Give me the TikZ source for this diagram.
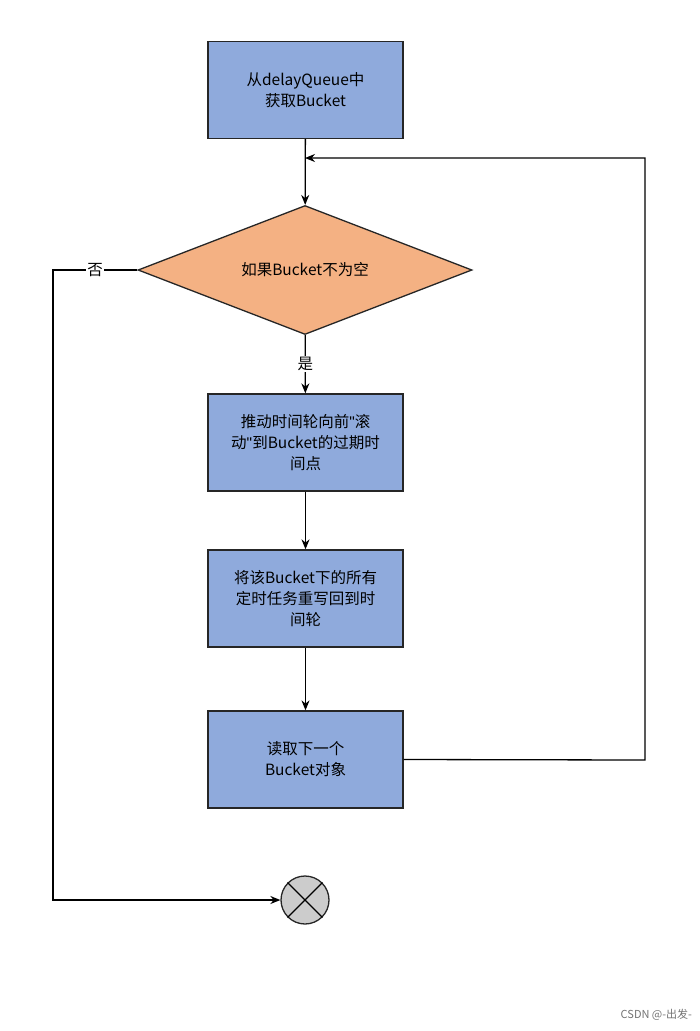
\documentclass[tikz,border=0pt]{standalone}
\usepackage{fontspec}
\setmainfont{Noto Sans CJK SC}
\newfontfamily\latq{Liberation Sans}
\usetikzlibrary{shapes.geometric,arrows.meta}
\definecolor{boxblue}{HTML}{8FAADC}
\definecolor{boxorange}{HTML}{F4B183}
\newcommand{\sq}{{\latq\char"22}}
\begin{document}
\begin{tikzpicture}[x=1pt,y=-1pt,line width=1.3pt,
    txt/.style={font=\fontsize{15.5}{21}\selectfont},
    box/.style={draw=black!85,fill=boxblue,minimum width=195pt,minimum height=97pt,
      text width=186pt,align=center,txt,inner sep=0pt},
    link/.style={-{Stealth[length=10pt,width=8pt]}}]
  \useasboundingbox (0,0) rectangle (700,1031);
  \node[box] (get) at (305.5,90) {从delayQueue中\\获取Bucket};
  \node[draw=black!85,fill=boxorange,diamond,aspect=2.59,minimum width=334pt,
    minimum height=129pt,inner sep=0pt,txt] (chk) at (305,270) {如果Bucket不为空};
  \node[box] (adv) at (305.5,442.5) {推动时间轮向前\sq 滚\\动\sq 到Bucket的过期时\\间点};
  \node[box] (rew) at (305.5,598.5) {将该Bucket下的所有\\定时任务重写回到时\\间轮};
  \node[box] (nxt) at (305.5,759.5) {读取下一个\\Bucket对象};
  \node[draw=black!85,fill=black!20,circle,minimum size=48pt,inner sep=0pt] (end) at (305,900) {};
  \draw (end.north west) -- (end.south east) (end.north east) -- (end.south west);
  \coordinate (ret) at (305,158);
  \coordinate (r1) at (645,760);
  \coordinate (r2) at (645,158);
  \coordinate (l1) at (53,270);
  \coordinate (l2) at (53,900);
  \draw[link] (get) -- (chk);
  \draw[link] (chk) -- node[fill=white,inner sep=1pt,txt] {是} (adv);
  \draw[link] (adv) -- (rew);
  \draw[link] (rew) -- (nxt);
  \draw[link] (nxt.east) -- (r1) -- (r2) -- (ret);
  \draw[link] (chk.west) -- node[pos=0.5,fill=white,inner sep=1pt,txt] {否} (l1) -- (l2) -- (end.west);
  \node[text=black!55,font=\fontsize{11}{13}\selectfont,anchor=east] (wm) at (696,1015) {CSDN @-出发-};
\end{tikzpicture}
\end{document}
